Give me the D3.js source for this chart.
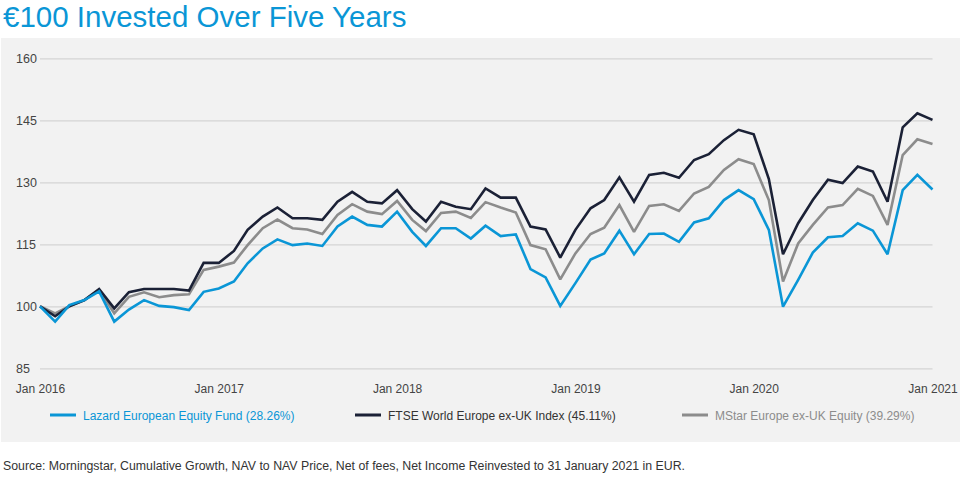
<!DOCTYPE html>
<html>
<head>
<meta charset="utf-8">
<script src="https://cdn.jsdelivr.net/npm/d3@7"></script>
<style>
  html, body { margin: 0; padding: 0; background: #ffffff; }
  svg { display: block; font-family: "Liberation Sans", Arial, sans-serif; }
</style>
</head>
<body>
<svg id="chart" width="960" height="480"></svg>
<script>
const title = "€100 Invested Over Five Years";
const sourceNote = "Source: Morningstar, Cumulative Growth, NAV to NAV Price, Net of fees, Net Income Reinvested to 31 January 2021 in EUR.";

const startYear = 2016;
const monthCount = 61;
const yTicks = [85, 100, 115, 130, 145, 160];
const xTickYears = [2016, 2017, 2018, 2019, 2020, 2021];

const seriesNames = [
  "Lazard European Equity Fund (28.26%)",
  "FTSE World Europe ex-UK Index (45.11%)",
  "MStar Europe ex-UK Equity (39.29%)"
];

const lazard = [100, 96.3, 100.3, 101.5, 103.6, 96.3, 99.2, 101.5, 100.1, 99.8, 99.1, 103.5,
  104.3, 106, 110.4, 114, 116.2, 114.8, 115.2, 114.6, 119.3, 121.7, 119.7, 119.3,
  122.9, 118, 114.6, 118.9, 118.9, 116.4, 119.5, 117, 117.4, 109, 107, 100.1,
  105.6, 111.3, 112.8, 118.3, 112.6, 117.5, 117.6, 115.6, 120.3, 121.3, 125.7, 128.1,
  125.9, 118.5, 99.9, 106.4, 113, 116.7, 117, 120.1, 118.3, 112.6, 128.1, 131.8,
  128.26];

const ftse = [100, 97.6, 100, 101.5, 104.2, 99.5, 103.4, 104.2, 104.2, 104.2, 103.8, 110.5,
  110.5, 113.4, 118.5, 121.7, 123.9, 121.3, 121.3, 120.9, 125.3, 127.7, 125.3, 124.9,
  128.1, 123.5, 120.5, 125.3, 124.1, 123.5, 128.5, 126.3, 126.3, 119.3, 118.6, 111.8,
  118.5, 123.7, 125.7, 131.2, 125.3, 131.8, 132.3, 131.1, 135.4, 136.8, 140.2, 142.7,
  141.6, 130.8, 112.6, 120.1, 125.7, 130.6, 129.8, 133.8, 132.6, 125.3, 143.3, 146.7,
  145.11];

const mstar = [100, 98.3, 100, 101.5, 104, 98.3, 102.3, 103.4, 102.2, 102.7, 102.9, 108.8,
  109.6, 110.6, 114.8, 118.9, 121, 118.9, 118.6, 117.5, 122.1, 124.7, 122.9, 122.3,
  125.5, 120.9, 118.2, 122.6, 122.9, 121.4, 125.2, 123.9, 122.7, 114.8, 113.8, 106.5,
  112.8, 117.5, 119, 124.5, 118, 124.3, 124.7, 123.1, 127.3, 128.9, 133, 135.6,
  134.4, 125.7, 106, 115.2, 119.7, 123.9, 124.5, 128.4, 126.7, 119.7, 136.6, 140.4,
  139.29];

const colors = ["#0a96d6", "#1b2136", "#8c8c8c"];
const textColors = ["#0a96d6", "#333333", "#8c8c8c"];

const dates = d3.range(monthCount).map(i => new Date(startYear, i, 1));
const series = [
  { name: seriesNames[0], values: lazard, color: colors[0], text: textColors[0] },
  { name: seriesNames[1], values: ftse, color: colors[1], text: textColors[1] },
  { name: seriesNames[2], values: mstar, color: colors[2], text: textColors[2] }
];

const svg = d3.select("#chart");

// background panel
svg.append("rect").attr("x", 1).attr("y", 38).attr("width", 959).attr("height", 404).attr("fill", "#f2f2f2");

// title
svg.append("text").attr("x", 3).attr("y", 26.5)
  .attr("font-size", 29.5).attr("fill", "#0a96d6")
  .text(title);

const x = d3.scaleTime().domain([dates[0], dates[monthCount - 1]]).range([40, 932.5]);
const y = d3.scaleLinear().domain([85, 160]).range([368.3, 58.3]);

// y axis with gridlines
const yAxis = svg.append("g").attr("transform", "translate(40,0)")
  .call(d3.axisLeft(y).tickValues(yTicks).tickSize(-892.5).tickFormat(d3.format("d")));
yAxis.select(".domain").remove();
yAxis.selectAll(".tick line").attr("stroke", "#d4d4d4").attr("stroke-width", 1.2);
yAxis.selectAll(".tick text").attr("x", -24).attr("text-anchor", "start")
  .attr("font-size", 12.5).attr("fill", "#444").attr("font-family", "Liberation Sans, Arial, sans-serif");

// x axis
const xAxis = svg.append("g").attr("transform", "translate(0,368.3)")
  .call(d3.axisBottom(x).tickValues(xTickYears.map(yy => new Date(yy, 0, 1)))
    .tickSize(0).tickPadding(16.5).tickFormat(d3.timeFormat("Jan %Y")));
xAxis.select(".domain").remove();
xAxis.selectAll(".tick text").attr("font-size", 12).attr("fill", "#444")
  .attr("font-family", "Liberation Sans, Arial, sans-serif");

// lines
const line = d3.line().x((d, i) => x(dates[i])).y(d => y(d));
const drawOrder = [2, 1, 0];
drawOrder.forEach(k => {
  svg.append("path").datum(series[k].values)
    .attr("d", line)
    .attr("fill", "none")
    .attr("stroke", series[k].color)
    .attr("stroke-width", 2.6)
    .attr("stroke-linejoin", "miter")
    .attr("stroke-miterlimit", 2);
});

// legend
const legendX = [50, 355, 682];
series.forEach((s, k) => {
  const g = svg.append("g").attr("transform", `translate(${legendX[k]},415)`);
  g.append("line").attr("x1", 0).attr("x2", 26).attr("y1", 0).attr("y2", 0)
    .attr("stroke", s.color).attr("stroke-width", 3);
  g.append("text").attr("x", 33).attr("y", 4.5).attr("font-size", 12)
    .attr("fill", s.text).text(s.name);
});

// source
svg.append("text").attr("x", 3).attr("y", 469.5).attr("font-size", 12.5)
  .attr("fill", "#333").attr("textLength", 682).attr("lengthAdjust", "spacingAndGlyphs")
  .text(sourceNote);
</script>
</body>
</html>
